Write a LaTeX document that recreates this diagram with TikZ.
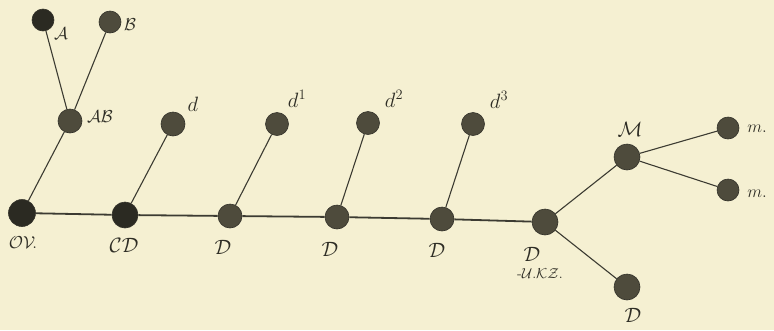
\documentclass[tikz,border=0pt]{standalone}
\begin{document}
\begin{tikzpicture}[x=1pt,y=-1pt,
  ball/.style={circle,inner sep=0pt,minimum size=#1,fill=balldark,draw=ballrim,line width=0.6pt},
  ball/.default=22pt,
  blackball/.style={ball=#1,fill=ballblack},
  blackball/.default=26pt,
  link/.style={draw=linecol,line width=1.1pt},
  stem/.style={draw=linecol,line width=1.8pt},
  lab/.style={inner sep=0pt,text=inkcol,font=\huge}]
\definecolor{paper}{HTML}{F5F0D2}
\definecolor{balldark}{HTML}{4E4B3C}
\definecolor{ballblack}{HTML}{2B2A22}
\definecolor{ballrim}{HTML}{33322A}
\definecolor{linecol}{HTML}{3C3B32}
\definecolor{inkcol}{HTML}{2E2D25}
\fill[paper] (0,0) rectangle (774,330);
\useasboundingbox (0,0) rectangle (774,330);
% nodes
\node[blackball=22pt] (A) at (43,20) {};
\node[ball=22pt] (B) at (110,22) {};
\node[ball=24pt] (AB) at (70,121) {};
\node[blackball=27pt] (OV) at (22,213) {};
\node[ball=24pt] (c) at (173,124) {};
\node[ball=23pt] (d1) at (277,124) {};
\node[ball=23pt] (d2) at (368,123) {};
\node[ball=23pt] (d3) at (473,124) {};
\node[blackball=26pt] (CD) at (125,215) {};
\node[ball=24pt] (D1) at (230,216) {};
\node[ball=24pt] (D2) at (337,217) {};
\node[ball=24pt] (D3) at (442,219) {};
\node[ball=26pt] (D4) at (545,222) {};
\node[ball=26pt] (M) at (627,157) {};
\node[ball=22pt] (m1) at (728,128) {};
\node[ball=22pt] (m2) at (728,190) {};
\node[ball=26pt] (D5) at (627,287) {};
% connectors
\draw[link] (A) -- (AB);
\draw[link] (B) -- (AB);
\draw[link] (AB) -- (OV);
\draw[link] (c) -- (CD);
\draw[link] (d1) -- (D1);
\draw[link] (d2) -- (D2);
\draw[link] (d3) -- (D3);
\draw[stem] (OV) -- (CD);
\draw[stem] (CD) -- (D1);
\draw[stem] (D1) -- (D2);
\draw[stem] (D2) -- (D3);
\draw[stem] (D3) -- (D4);
\draw[link] (D4) -- (M);
\draw[link] (D4) -- (D5);
\draw[link] (M) -- (m1);
\draw[link] (M) -- (m2);
% labels
\node[lab,font=\LARGE] (lA) at (61,34) {$\mathcal{A}$};
\node[lab,font=\LARGE] (lB) at (130,25) {$\mathcal{B}$};
\node[lab,font=\LARGE] (lAB) at (100,117) {$\mathcal{AB}$};
\node[lab] (lc) at (193,104) {$d$};
\node[lab] (ld1) at (297,99) {$d^{1}$};
\node[lab] (ld2) at (394,99) {$d^{2}$};
\node[lab] (ld3) at (499,100) {$d^{3}$};
\node[lab,font=\LARGE] (lOV) at (23,243) {$\mathcal{OV}\!.$};
\node[lab] (lCD) at (124,245) {$\mathcal{CD}$};
\node[lab] (lD1) at (223,247) {$\mathcal{D}$};
\node[lab] (lD2) at (330,249) {$\mathcal{D}$};
\node[lab] (lD3) at (437,250) {$\mathcal{D}$};
\node[lab] (lD4) at (532,254) {$\mathcal{D}$};
\node[lab,font=\Large] (lUKZ) at (540,274) {-$\mathcal{U}.\mathcal{KZ}.$};
\node[lab] (lD5) at (633,315) {$\mathcal{D}$};
\node[lab] (lM) at (630,129) {$\mathcal{M}$};
\node[lab,font=\LARGE] (lm1) at (757,129) {$m.$};
\node[lab,font=\LARGE] (lm2) at (757,194) {$m.$};
\end{tikzpicture}
\end{document}
